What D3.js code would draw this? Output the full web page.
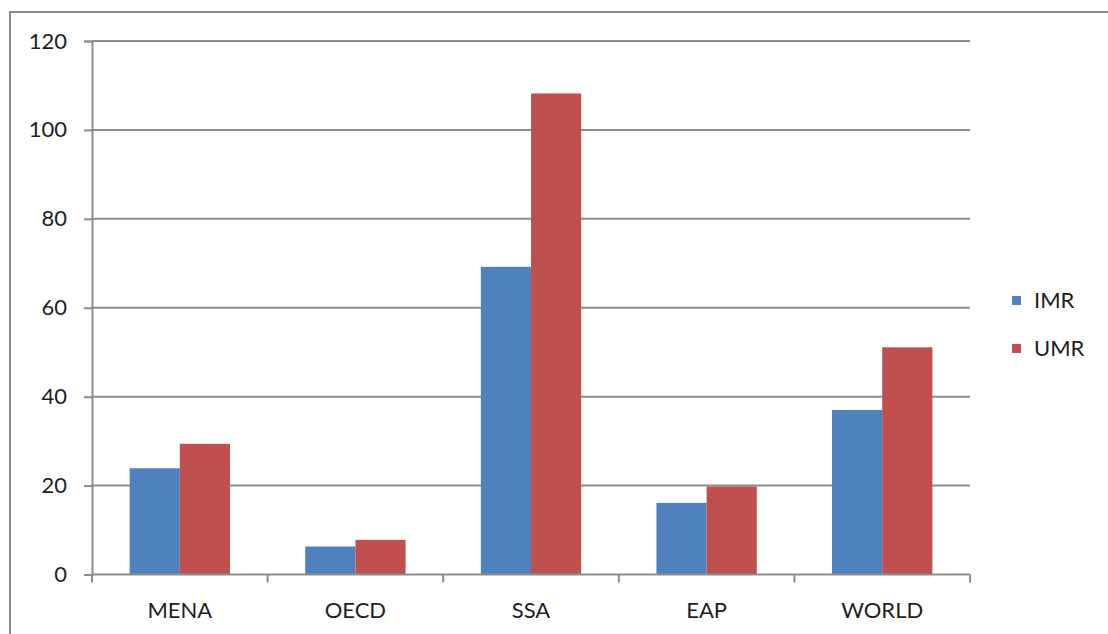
<!DOCTYPE html>
<html>
<head>
<meta charset="utf-8">
<script src="https://cdn.jsdelivr.net/npm/d3@7"></script>
<style>
  html, body { margin: 0; padding: 0; background: #fff; }
  svg { display: block; }
  text { font-family: Lato, "Open Sans", sans-serif; fill: #1e1e1e; }
</style>
</head>
<body>
<svg id="chart" width="1108" height="634"></svg>
<script>
// Child mortality by region (per 1,000)
const categories = ["MENA", "OECD", "SSA", "EAP", "WORLD"];
const seriesNames = ["IMR", "UMR"];
const imrValues = [23.9, 6.3, 69.2, 16.1, 37.0];
const umrValues = [29.4, 7.8, 108.2, 19.8, 51.1];
const yTicks = [0, 20, 40, 60, 80, 100, 120];
const colors = ["#4F81BD", "#C0504D"];

const svg = d3.select("#chart");
const W = 1108, H = 634;
const m = { left: 92, right: 138, top: 41, bottom: 59.5 };
const grid = "#8c8c8c";

// chart frame (top and left edges visible)
svg.append("path")
  .attr("d", `M10,${H} L10,12 L${W},12`)
  .attr("fill", "none").attr("stroke", grid).attr("stroke-width", 2);

const x = d3.scaleBand().domain(categories).range([m.left, W - m.right]);
const y = d3.scaleLinear().domain([0, 120]).range([H - m.bottom, m.top]);
// two bars per group, centred with a gap on either side
const xs = d3.scaleBand().domain(seriesNames).range([0, x.bandwidth()]).paddingOuter(0.75);

// horizontal gridlines
svg.append("g").selectAll("line").data(yTicks.filter(d => d > 0)).join("line")
  .attr("x1", m.left).attr("x2", W - m.right)
  .attr("y1", d => y(d)).attr("y2", d => y(d))
  .attr("stroke", grid).attr("stroke-width", 2);

// y axis
const yAxis = svg.append("g").attr("transform", `translate(${m.left},0)`)
  .call(d3.axisLeft(y).tickValues(yTicks).tickSize(8).tickPadding(17));
yAxis.select(".domain").attr("stroke", grid).attr("stroke-width", 2);
yAxis.selectAll(".tick line").attr("stroke", grid).attr("stroke-width", 2);
yAxis.selectAll(".tick text").style("font-size", "22px").attr("fill", "#1e1e1e")
  .style("font-family", "Lato, 'Open Sans', sans-serif");

// bars
const rows = categories.map((c, i) => ({ c, vals: [imrValues[i], umrValues[i]] }));
const groups = svg.append("g").selectAll("g").data(rows).join("g")
  .attr("transform", d => `translate(${x(d.c)},0)`);
groups.selectAll("rect").data(d => d.vals.map((v, j) => ({ v, s: seriesNames[j], j }))).join("rect")
  .attr("x", d => xs(d.s))
  .attr("width", xs.bandwidth())
  .attr("y", d => y(d.v))
  .attr("height", d => y(0) - y(d.v))
  .attr("fill", d => colors[d.j]);

// x axis with boundary ticks
const xAxisG = svg.append("g").attr("transform", `translate(0,${y(0)})`);
xAxisG.append("line").attr("x1", m.left).attr("x2", W - m.right)
  .attr("stroke", grid).attr("stroke-width", 2);
const bounds = categories.map(c => x(c)).concat([x(categories[categories.length - 1]) + x.bandwidth()]);
xAxisG.selectAll("line.tk").data(bounds).join("line").attr("class", "tk")
  .attr("x1", d => d).attr("x2", d => d).attr("y1", 0).attr("y2", 8)
  .attr("stroke", grid).attr("stroke-width", 2);
xAxisG.selectAll("text").data(categories).join("text")
  .attr("x", d => x(d) + x.bandwidth() / 2)
  .attr("y", 36)
  .attr("dy", "0.35em")
  .attr("text-anchor", "middle")
  .style("font-size", "22px")
  .text(d => d);

// legend
const legend = svg.append("g").selectAll("g").data(seriesNames).join("g")
  .attr("transform", (d, i) => `translate(1012,${300 + i * 48})`);
legend.append("rect").attr("x", 0).attr("y", -4).attr("width", 9).attr("height", 9)
  .attr("fill", (d, i) => colors[i]);
legend.append("text").attr("x", 22).attr("y", 0).attr("dy", "0.35em")
  .style("font-size", "22px").text(d => d);
</script>
</body>
</html>
